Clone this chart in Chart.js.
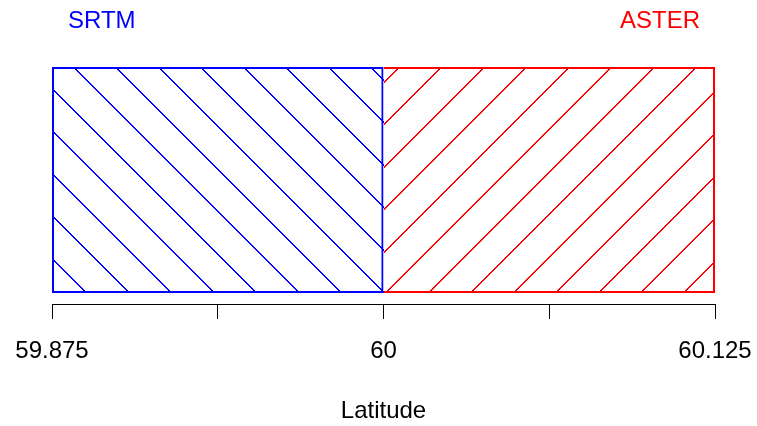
<!DOCTYPE html>
<html>
<head>
<meta charset="utf-8">
<script src="https://cdn.jsdelivr.net/npm/chart.js@4.4.0/dist/chart.umd.min.js"></script>
<style>
html, body { margin: 0; padding: 0; background: #fff; }
#wrap { width: 757px; height: 426px; }
</style>
</head>
<body>
<div id="wrap"><canvas id="chart" width="757" height="426"></canvas></div>
<script>
// Latitude extent of the two DEM tiles
const seriesNames = ['SRTM', 'ASTER'];
const seriesRanges = [[59.875, 60], [60, 60.125]];
const seriesColors = ['#0000ff', '#ff0000'];
const hatchDirs = [-1, 1]; // -1 = "\" , 1 = "/"
const tickValues = [59.875, 59.9375, 60, 60.0625, 60.125];
const tickLabels = ['59.875', '', '60', '', '60.125'];
const axisTitle = 'Latitude';

const FONT = 'Liberation Sans, Arial, Helvetica, sans-serif';
const HATCH_STEP = 42.5;

// diagonal hatching inside each bar, drawn as crisp staircases,
// anchored at the bar's bottom corner on the shared edge
const hatchPlugin = {
    id: 'hatch',
    beforeDatasetsDraw(chart) {
        const ctx = chart.ctx;
        chart.data.datasets.forEach((ds, di) => {
            const meta = chart.getDatasetMeta(di);
            meta.data.forEach(bar => {
                const p = bar.getProps(['x', 'y', 'base', 'height'], true);
                const left = Math.round(Math.min(p.x, p.base));
                const right = Math.round(Math.max(p.x, p.base));
                const top = Math.round(p.y - p.height / 2);
                const bottom = Math.round(p.y + p.height / 2);
                const dir = hatchDirs[di];
                const n = Math.ceil((right - left + bottom - top) / HATCH_STEP) + 2;
                ctx.save();
                ctx.beginPath();
                ctx.rect(left, top, right - left, bottom - top);
                ctx.clip();
                ctx.fillStyle = seriesColors[di];
                for (let k = -n; k <= n; k++) {
                    for (let x = left - 1; x < right; x++) {
                        const y = dir < 0
                            ? x + (bottom - right) + k * HATCH_STEP
                            : (bottom + left) + k * HATCH_STEP - x;
                        const yy = Math.round(y);
                        if (yy >= top - 1 && yy <= bottom) ctx.fillRect(x, yy, 2, 1);
                    }
                }
                ctx.restore();
            });
        });
    }
};

// series names written above the corners of the plot
const namesPlugin = {
    id: 'names',
    afterDraw(chart) {
        const ctx = chart.ctx;
        const a = chart.chartArea;
        ctx.save();
        ctx.font = '24px ' + FONT;
        ctx.textBaseline = 'middle';
        ctx.fillStyle = seriesColors[0];
        ctx.textAlign = 'left';
        ctx.fillText(seriesNames[0], a.left + 16, 21);
        ctx.fillStyle = seriesColors[1];
        ctx.textAlign = 'right';
        ctx.fillText(seriesNames[1], a.right - 15, 21);
        ctx.restore();
    }
};

const borderWidths = [
    { left: 2, top: 2, right: 2, bottom: 2 },
    { left: 0, top: 2, right: 2, bottom: 2 }
];

const datasets = seriesNames.map((name, i) => ({
    label: name,
    data: [seriesRanges[i]],
    backgroundColor: 'rgba(0,0,0,0)',
    borderColor: seriesColors[i],
    borderWidth: borderWidths[i],
    borderSkipped: false,
    grouped: false,
    barPercentage: 226 / 248,
    categoryPercentage: 1
}));

new Chart(document.getElementById('chart'), {
    type: 'bar',
    data: { labels: [''], datasets },
    options: {
        indexAxis: 'y',
        responsive: false,
        animation: false,
        devicePixelRatio: 1,
        layout: { padding: { left: 52, right: 42, top: 56, bottom: 0 } },
        plugins: { legend: { display: false }, tooltip: { enabled: false } },
        scales: {
            x: {
                type: 'linear',
                min: tickValues[0],
                max: tickValues[tickValues.length - 1],
                afterBuildTicks: s => { s.ticks = tickValues.map(v => ({ value: v })); },
                afterFit: s => { s.height = 122; s.paddingLeft = 0; s.paddingRight = 0; },
                grid: { drawOnChartArea: false, drawTicks: true, tickLength: 15, color: '#000', lineWidth: 1 },
                border: { display: true, color: '#000', width: 1 },
                ticks: {
                    autoSkip: false,
                    maxRotation: 0,
                    color: '#000',
                    padding: 18,
                    font: { size: 24, family: FONT },
                    callback: (v, i) => tickLabels[i]
                },
                title: {
                    display: true,
                    text: axisTitle,
                    color: '#000',
                    font: { size: 24, family: FONT },
                    padding: { top: 0, bottom: 0 }
                }
            },
            y: { display: false }
        }
    },
    plugins: [hatchPlugin, namesPlugin]
});
</script>
</body>
</html>
